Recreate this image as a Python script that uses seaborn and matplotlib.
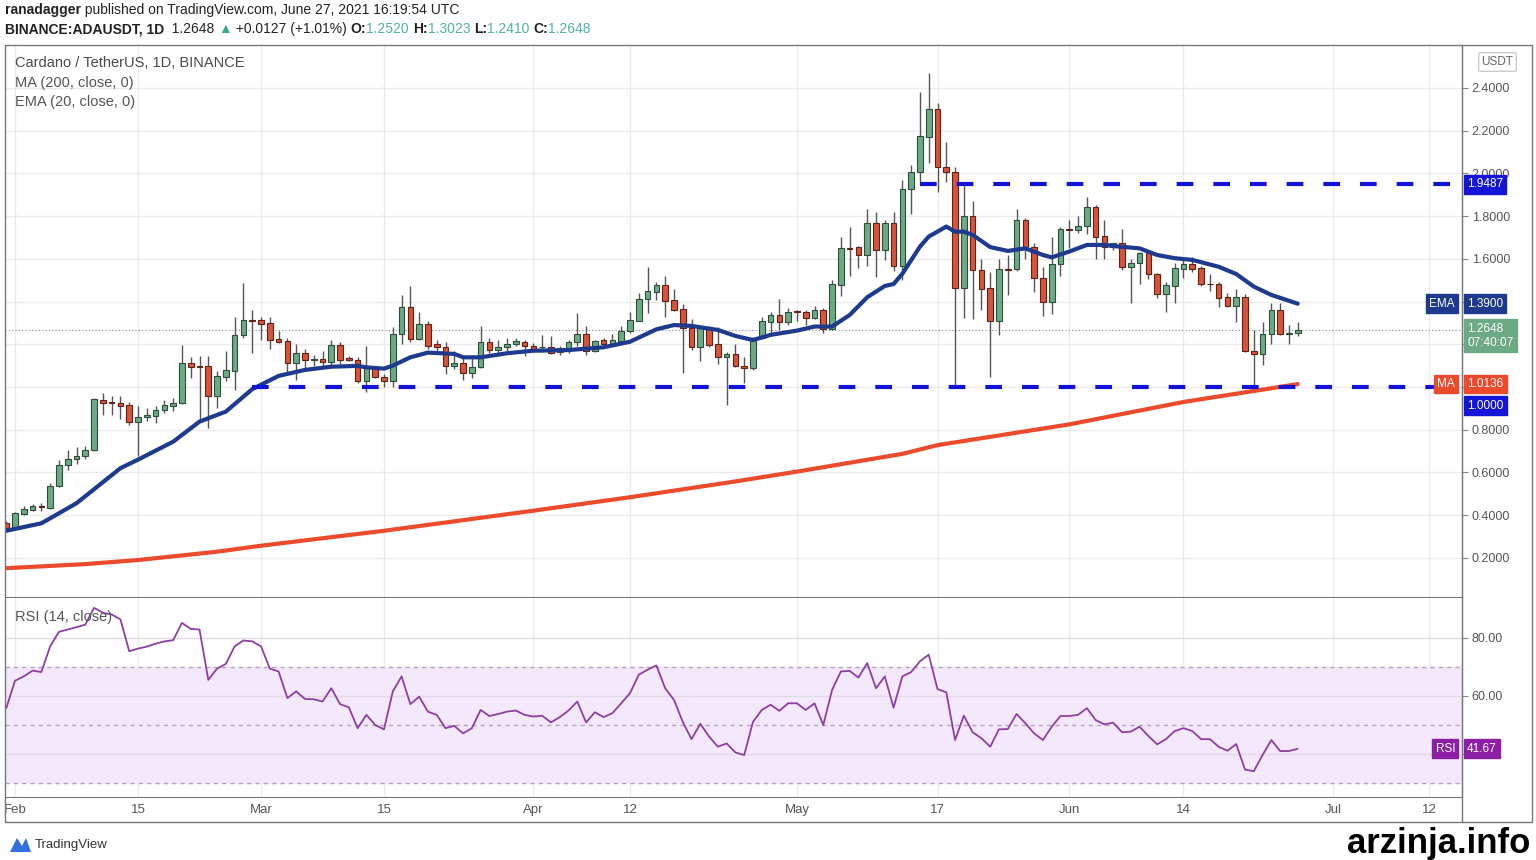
import numpy as np
import pandas as pd
import matplotlib
matplotlib.use("Agg")
import matplotlib.pyplot as plt
import matplotlib.dates as mdates
from matplotlib.patches import FancyBboxPatch, Polygon
import seaborn as sns

W, H = 1536, 860

# daily candles, Jan 31 .. Jun 27 2021
dates = pd.date_range("2021-01-31", "2021-06-27", freq="D")

opens = [0.362, 0.339, 0.407, 0.424, 0.443, 0.435, 0.537, 0.635, 0.662, 0.677,
         0.705, 0.940, 0.930, 0.927, 0.916, 0.838, 0.861, 0.865, 0.892, 0.913,
         0.925, 1.114, 1.100, 1.099, 0.958, 1.049, 1.077, 1.244, 1.314, 1.314,
         1.298, 1.225, 1.214, 1.111, 1.161, 1.127, 1.130, 1.117, 1.197, 1.135,
         1.125, 1.028, 1.095, 1.049, 1.028, 1.248, 1.376, 1.225, 1.294, 1.200,
         1.187, 1.100, 1.111, 1.064, 1.092, 1.212, 1.173, 1.187, 1.200, 1.212,
         1.190, 1.185, 1.187, 1.165, 1.175, 1.212, 1.248, 1.170, 1.220, 1.200,
         1.217, 1.260, 1.310, 1.411, 1.447, 1.478, 1.406, 1.364, 1.275, 1.189,
         1.275, 1.200, 1.142, 1.155, 1.100, 1.090, 1.231, 1.306, 1.337, 1.306,
         1.353, 1.350, 1.322, 1.361, 1.270, 1.478, 1.649, 1.654, 1.618, 1.767,
         1.642, 1.767, 1.567, 1.927, 2.005, 2.172, 2.300, 2.032, 2.005, 1.462,
         1.800, 1.548, 1.462, 1.311, 1.551, 1.551, 1.782, 1.654, 1.510, 1.400,
         1.576, 1.738, 1.735, 1.752, 1.844, 1.707, 1.654, 1.676, 1.560, 1.580,
         1.629, 1.529, 1.436, 1.473, 1.553, 1.576, 1.556, 1.482, 1.482, 1.420,
         1.379, 1.423, 1.170, 1.155, 1.248, 1.361, 1.250, 1.2520]
highs = [0.372, 0.415, 0.445, 0.452, 0.455, 0.550, 0.660, 0.705, 0.720, 0.722,
         0.950, 0.970, 0.960, 0.960, 0.930, 0.910, 0.900, 0.910, 0.940, 0.950,
         1.197, 1.140, 1.145, 1.145, 1.075, 1.170, 1.330, 1.486, 1.361, 1.330,
         1.330, 1.262, 1.230, 1.200, 1.180, 1.150, 1.170, 1.220, 1.210, 1.145,
         1.140, 1.190, 1.100, 1.060, 1.280, 1.431, 1.475, 1.350, 1.310, 1.220,
         1.210, 1.170, 1.150, 1.150, 1.286, 1.230, 1.220, 1.230, 1.230, 1.220,
         1.205, 1.244, 1.240, 1.190, 1.220, 1.345, 1.285, 1.220, 1.228, 1.250,
         1.285, 1.350, 1.440, 1.560, 1.490, 1.520, 1.460, 1.390, 1.320, 1.283,
         1.285, 1.280, 1.165, 1.200, 1.140, 1.236, 1.330, 1.350, 1.411, 1.370,
         1.360, 1.360, 1.380, 1.368, 1.500, 1.700, 1.751, 1.660, 1.834, 1.820,
         1.780, 1.820, 1.969, 2.040, 2.380, 2.469, 2.330, 2.149, 2.030, 1.946,
         1.870, 1.600, 1.540, 1.598, 1.620, 1.832, 1.790, 1.675, 1.560, 1.701,
         1.750, 1.780, 1.800, 1.891, 1.850, 1.780, 1.676, 1.742, 1.600, 1.633,
         1.640, 1.533, 1.490, 1.580, 1.595, 1.610, 1.565, 1.529, 1.490, 1.440,
         1.460, 1.436, 1.267, 1.306, 1.395, 1.395, 1.290, 1.3023]
lows = [0.330, 0.332, 0.400, 0.418, 0.420, 0.430, 0.530, 0.610, 0.640, 0.665,
        0.700, 0.870, 0.870, 0.850, 0.823, 0.677, 0.840, 0.830, 0.880, 0.890,
        0.920, 1.040, 0.840, 0.807, 0.904, 1.030, 0.986, 1.228, 1.158, 1.220,
        1.180, 1.205, 1.072, 1.033, 1.080, 1.100, 1.097, 1.100, 1.110, 1.120,
        1.017, 0.978, 1.040, 0.999, 1.000, 1.200, 1.210, 1.220, 1.180, 1.160,
        1.061, 1.085, 1.033, 1.040, 1.090, 1.160, 1.160, 1.170, 1.190, 1.145,
        1.170, 1.165, 1.155, 1.150, 1.160, 1.190, 1.150, 1.165, 1.190, 1.195,
        1.210, 1.255, 1.310, 1.345, 1.405, 1.329, 1.357, 1.067, 1.175, 1.123,
        1.189, 1.110, 0.916, 1.092, 1.017, 1.078, 1.225, 1.245, 1.265, 1.290,
        1.310, 1.290, 1.318, 1.255, 1.265, 1.426, 1.520, 1.556, 1.567, 1.514,
        1.595, 1.545, 1.500, 1.810, 1.960, 2.050, 1.915, 1.960, 0.994, 1.322,
        1.318, 1.360, 1.049, 1.244, 1.431, 1.545, 1.600, 1.446, 1.333, 1.340,
        1.520, 1.649, 1.720, 1.715, 1.600, 1.600, 1.642, 1.548, 1.392, 1.480,
        1.505, 1.415, 1.353, 1.395, 1.510, 1.540, 1.473, 1.450, 1.375, 1.376,
        1.306, 1.166, 1.002, 1.103, 1.200, 1.245, 1.200, 1.2410]
closes = [0.339, 0.409, 0.428, 0.443, 0.437, 0.537, 0.635, 0.662, 0.677, 0.705,
          0.942, 0.924, 0.924, 0.913, 0.838, 0.861, 0.869, 0.892, 0.916, 0.927,
          1.114, 1.095, 1.095, 0.958, 1.052, 1.080, 1.244, 1.314, 1.310, 1.295,
          1.220, 1.210, 1.111, 1.161, 1.127, 1.130, 1.117, 1.197, 1.127, 1.125,
          1.028, 1.095, 1.049, 1.028, 1.248, 1.376, 1.225, 1.294, 1.192, 1.185,
          1.100, 1.114, 1.064, 1.092, 1.212, 1.173, 1.187, 1.200, 1.214, 1.190,
          1.180, 1.187, 1.161, 1.182, 1.212, 1.248, 1.170, 1.217, 1.200, 1.220,
          1.262, 1.314, 1.411, 1.450, 1.478, 1.404, 1.361, 1.275, 1.189, 1.275,
          1.197, 1.142, 1.153, 1.098, 1.090, 1.231, 1.309, 1.337, 1.306, 1.353,
          1.350, 1.322, 1.361, 1.270, 1.482, 1.649, 1.645, 1.618, 1.767, 1.642,
          1.767, 1.567, 1.927, 2.005, 2.175, 2.300, 2.029, 2.005, 1.462, 1.800,
          1.548, 1.457, 1.311, 1.551, 1.548, 1.782, 1.649, 1.509, 1.400, 1.576,
          1.738, 1.735, 1.754, 1.844, 1.704, 1.654, 1.673, 1.560, 1.582, 1.629,
          1.529, 1.436, 1.476, 1.556, 1.576, 1.551, 1.482, 1.480, 1.415, 1.379,
          1.423, 1.170, 1.155, 1.248, 1.361, 1.248, 1.252, 1.2648]

rsi = [55.7, 65.2, 66.7, 68.7, 68.2, 77.1, 82.1, 82.9, 83.7, 84.6,
       90.4, 88.7, 88.1, 86.4, 75.4, 76.3, 77.0, 78.0, 78.8, 79.2,
       85.2, 83.1, 82.9, 65.5, 69.4, 71.0, 77.1, 79.1, 78.8, 77.1,
       69.4, 68.4, 59.2, 61.5, 58.9, 58.8, 58.0, 62.6, 57.1, 56.0,
       48.8, 53.4, 49.9, 48.4, 61.5, 66.7, 57.1, 59.7, 54.5, 53.4,
       48.8, 49.6, 47.0, 48.8, 55.1, 53.0, 53.7, 54.5, 54.9, 53.4,
       52.8, 53.1, 50.8, 52.6, 54.9, 58.0, 50.8, 54.3, 52.6, 54.0,
       57.4, 60.9, 67.3, 69.0, 70.5, 62.6, 58.6, 51.0, 45.0, 50.3,
       45.9, 42.4, 43.5, 40.4, 39.5, 51.0, 55.1, 56.9, 54.8, 57.4,
       57.4, 55.1, 57.4, 49.9, 62.0, 68.4, 68.6, 66.3, 71.3, 62.6,
       66.7, 55.9, 66.7, 68.2, 71.9, 74.2, 62.3, 61.2, 44.7, 53.1,
       47.4, 45.3, 42.4, 48.4, 48.5, 53.7, 50.5, 47.0, 44.7, 49.3,
       53.0, 53.0, 53.4, 55.7, 51.6, 50.1, 50.7, 47.4, 47.6, 49.3,
       46.1, 43.2, 45.0, 47.8, 48.8, 47.8, 45.0, 45.0, 42.4, 41.0,
       43.3, 34.5, 33.9, 39.5, 44.7, 40.9, 40.9, 41.67]

# EMA 20 and MA 200 (days counted from Feb 1)
ema_days = [-1, 3, 7, 12, 14, 18, 21, 24, 27, 30, 33, 36, 39, 40, 42, 43, 45, 47, 50, 51,
            53, 56, 59, 63, 67, 70, 73, 75, 77, 80, 82, 84, 86, 89, 91, 93, 95, 97, 99, 100,
            101, 103, 104, 106, 107, 108, 109, 111, 113, 115, 117, 118, 120, 122, 124, 125,
            128, 130, 132, 134, 137, 139, 141, 143, 146]
ema_vals = [0.327, 0.362, 0.456, 0.62, 0.66, 0.744, 0.838, 0.885, 0.99, 1.052, 1.08, 1.095,
            1.099, 1.092, 1.086, 1.10, 1.139, 1.161, 1.155, 1.139, 1.139, 1.158, 1.17, 1.173,
            1.186, 1.212, 1.27, 1.29, 1.286, 1.267, 1.239, 1.22, 1.244, 1.264, 1.283, 1.283,
            1.337, 1.42, 1.473, 1.482, 1.53, 1.657, 1.704, 1.751, 1.727, 1.727, 1.712, 1.655,
            1.637, 1.649, 1.618, 1.607, 1.634, 1.665, 1.665, 1.66, 1.649, 1.618, 1.603, 1.595,
            1.563, 1.529, 1.47, 1.431, 1.39]
ma_days = [-1, 8, 14, 23, 28, 42, 59, 70, 82, 89, 101, 105, 120, 133, 146]
ma_vals = [0.152, 0.171, 0.19, 0.229, 0.257, 0.327, 0.421, 0.484, 0.558, 0.604, 0.687,
           0.728, 0.825, 0.93, 1.0136]

levels = [1.9487, 1.0]
level_start = ["2021-05-15", "2021-02-28"]

tick_dates = ["2021-02-01", "2021-02-15", "2021-03-01", "2021-03-15", "2021-04-01", "2021-04-12",
              "2021-05-01", "2021-05-17", "2021-06-01", "2021-06-14", "2021-07-01", "2021-07-12"]
tick_labels = ["Feb", "15", "Mar", "15", "Apr", "12", "May", "17", "Jun", "14", "Jul", "12"]
price_ticks = [0.2, 0.4, 0.6, 0.8, 1.0, 1.2, 1.4, 1.6, 1.8, 2.0, 2.2, 2.4]

df = pd.DataFrame({"date": dates, "open": opens, "high": highs, "low": lows,
                   "close": closes, "rsi": rsi})
df["x"] = mdates.date2num(df["date"])
base = pd.Timestamp("2021-02-01")
ema_x = mdates.date2num(base + pd.to_timedelta(ema_days, unit="D"))
ma_x = mdates.date2num(base + pd.to_timedelta(ma_days, unit="D"))
x0 = mdates.date2num(base)

sns.set_style("white")
plt.rcParams["font.family"] = ["Liberation Sans", "DejaVu Sans"]

fig = plt.figure(figsize=(W / 100, H / 100), dpi=100)
ax = fig.add_axes([5 / W, 1 - 597 / H, 1457 / W, 552 / H])
ax2 = fig.add_axes([5 / W, 1 - 797 / H, 1457 / W, 199 / H])

grid_c = "#ebebeb"
for a in (ax, ax2):
    a.set_xlim(x0 - 1.14, x0 + 164.7)
    a.set_xticks(mdates.date2num(pd.to_datetime(tick_dates)))
    for v in a.get_xticks():
        a.axvline(v, color=grid_c, lw=1, zorder=0)
    for s in ["top", "left"]:
        a.spines[s].set_visible(False)
    a.spines["right"].set_color("#777777")
    a.spines["bottom"].set_color("#777777")
    a.yaxis.tick_right()
    a.tick_params(axis="y", length=4, color="#888888", labelsize=9, labelcolor="#555555", pad=3)

# ---- price panel
ax.set_ylim(0.017, 2.601)
ax.set_yticks(price_ticks)
# labels hidden where the value tags sit on the axis
ax.set_yticklabels(["" if v in (1.0, 1.2, 1.4) else f"{v:.4f}" for v in price_ticks])
for v in price_ticks:
    ax.axhline(v, color=grid_c, lw=1, zorder=0)
ax.tick_params(axis="x", labelbottom=False, length=0)

up = df["close"] >= df["open"]
body_lo = np.minimum(df["open"], df["close"])
body_h = np.maximum((df["close"] - df["open"]).abs(), 0.004)
ax.vlines(df["x"], df["low"], df["high"], color="#555555", lw=1, zorder=2)
ax.bar(df["x"][up], body_h[up], bottom=body_lo[up], width=0.64, color="#6ca985",
       edgecolor="#2d4f3a", lw=0.8, zorder=3)
ax.bar(df["x"][~up], body_h[~up], bottom=body_lo[~up], width=0.64, color="#d9533a",
       edgecolor="#5e2216", lw=0.8, zorder=3)

sns.lineplot(x=ma_x, y=ma_vals, ax=ax, color="#ec4a2c", lw=3, zorder=4)
sns.lineplot(x=ema_x, y=ema_vals, ax=ax, color="#1d3a8f", lw=3, zorder=4)

xr = x0 + 164.7
for lv, st in zip(levels, level_start):
    xs = mdates.date2num(pd.Timestamp(st))
    ax.plot([xs, xr], [lv, lv], color="#1212d6", lw=3, dashes=(4, 4.8), zorder=5,
            solid_capstyle="butt", dash_capstyle="butt")
ax.axhline(closes[-1], color="#888888", lw=0.8, ls=(0, (1, 2)), zorder=1)

ax.text(10 / 1457, 1 - 18 / 552, "Cardano / TetherUS, 1D, BINANCE", transform=ax.transAxes,
        fontsize=10.5, color="#4a4a4a", va="center")
ax.text(10 / 1457, 1 - 38 / 552, "MA (200, close, 0)", transform=ax.transAxes,
        fontsize=10.5, color="#555555", va="center")
ax.text(10 / 1457, 1 - 57 / 552, "EMA (20, close, 0)", transform=ax.transAxes,
        fontsize=10.5, color="#555555", va="center")


def tag(axis, yval, text, fc, side="right", dy=0, fs=8.5, va="center"):
    xt, ha = (3.6, "left") if side == "right" else (-5, "right")
    axis.annotate(text, xy=(1, yval), xycoords=("axes fraction", "data"),
                  xytext=(xt, dy), textcoords="offset points", ha=ha, va=va,
                  color="white", fontsize=fs, annotation_clip=False, zorder=20,
                  bbox=dict(boxstyle="square,pad=0.28", fc=fc, ec=fc))


tag(ax, levels[0], "1.9487", "#1515d8")
tag(ax, 1.39, "EMA", "#1d3a8f", side="left")
tag(ax, 1.39, "1.3900", "#1d3a8f")
tag(ax, closes[-1], "1.2648\n07:40:07", "#6ca985", dy=5.5, va="top")
tag(ax, 1.0136, "MA", "#ec4a2c", side="left")
tag(ax, 1.0136, "1.0136", "#ec4a2c")
tag(ax, levels[1], "1.0000", "#1515d8", dy=-13.5)

# ---- RSI panel
ax2.set_ylim(25, 93.8)
ax2.axhspan(30, 70, color="#f4e8fc", zorder=0)
for v in (40, 60, 80):
    ax2.axhline(v, color="#e2dbe6", lw=1, zorder=0.5)
for v in (30, 50, 70):
    ax2.axhline(v, color="#b7a2c4", lw=1, ls=(0, (3, 3)), zorder=0.6)
ax2.set_yticks([40, 60, 80])
ax2.set_yticklabels(["", "60.00", "80.00"])
sns.lineplot(data=df, x="x", y="rsi", ax=ax2, color="#8e3fa3", lw=1.3, zorder=3)
ax2.set_xlabel("")
ax2.set_ylabel("")
ax.set_xlabel("")
ax.set_ylabel("")
ax2.set_xticklabels(tick_labels)
ax2.tick_params(axis="x", length=3, color="#888888", labelsize=9.5, labelcolor="#555555", pad=2)
ax2.text(10 / 1457, 1 - 19 / 199, "RSI (14, close)", transform=ax2.transAxes,
         fontsize=10.5, color="#555555", va="center")
tag(ax2, rsi[-1], "RSI", "#8c1fa5", side="left")
tag(ax2, rsi[-1], "41.67", "#8c1fa5")

# ---- frame and header
def fline(x1, y1, x2, y2, c="#777777", lw=1):
    fig.add_artist(plt.Line2D([x1 / W, x2 / W], [1 - y1 / H, 1 - y2 / H],
                              transform=fig.transFigure, color=c, lw=lw))


fline(5, 45, 1532, 45)
fline(5, 45, 5, 822)
fline(1532, 45, 1532, 822)
fline(5, 822, 1532, 822)
fline(1462, 45, 1462, 822)

fig.add_artist(FancyBboxPatch((1481 / W, 1 - 70 / H), 33 / W, 16 / H,
                              boxstyle="round,pad=0.0015", transform=fig.transFigure,
                              fc="white", ec="#cccccc", lw=1))
fig.text(1497.5 / W, 1 - 62 / H, "USDT", ha="center", va="center", fontsize=8.5, color="#666666")

renderer = fig.canvas.get_renderer()


def chain(x_px, y_px, parts, fs=10):
    x = x_px
    for s, col, wt in parts:
        t = fig.text(x / W, 1 - y_px / H, s, color=col, fontweight=wt, fontsize=fs,
                     va="center", ha="left")
        x += t.get_window_extent(renderer=renderer).width


dark = "#222222"
teal = "#4fb3a3"
chain(5, 10, [("ranadagger", dark, "bold"),
              (" published on TradingView.com, June 27, 2021 16:19:54 UTC", dark, "normal")])
chain(5, 29, [("BINANCE:ADAUSDT, 1D", dark, "bold"),
              ("  1.2648 ", dark, "normal"), ("\u25b2", "#3aa88f", "normal"),
              (" +0.0127 (+1.01%) ", dark, "normal"),
              ("O:", dark, "bold"), ("1.2520 ", teal, "normal"),
              ("H:", dark, "bold"), ("1.3023 ", teal, "normal"),
              ("L:", dark, "bold"), ("1.2410 ", teal, "normal"),
              ("C:", dark, "bold"), ("1.2648", teal, "normal")])

fig.add_artist(Polygon([(10 / W, 1 - 852 / H), (17 / W, 1 - 838 / H), (22 / W, 1 - 846 / H),
                        (26 / W, 1 - 838 / H), (31 / W, 1 - 852 / H)],
                       closed=True, transform=fig.transFigure, fc="#2f6fe0", ec="none"))
fig.text(35 / W, 1 - 845 / H, "TradingView", fontsize=9.5, color="#333333", va="center")
fig.text(1530 / W, 1 - 843 / H, "arzinja.info", fontsize=25, fontweight="bold",
         color="black", ha="right", va="center")

fig.savefig("out.png", dpi=100, facecolor="white")
